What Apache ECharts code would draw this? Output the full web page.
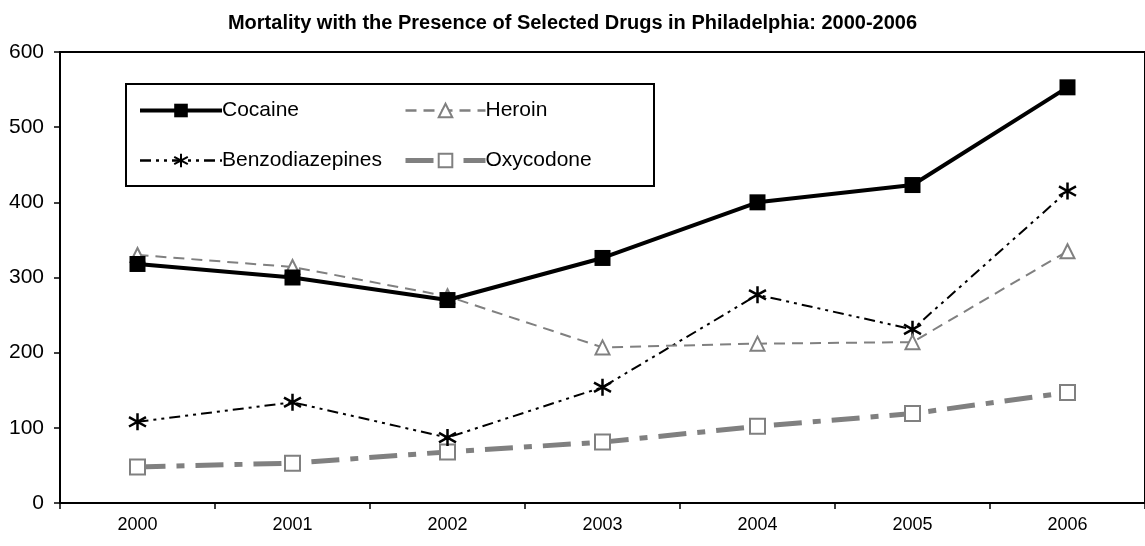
<!DOCTYPE html>
<html><head><meta charset="utf-8">
<script src="https://cdn.jsdelivr.net/npm/echarts@6/dist/echarts.min.js"></script>
<style>html,body{margin:0;padding:0;background:#fff}#c{width:1145px;height:546px}</style>
</head><body><div id="c"></div>
<script>
const years = ['2000','2001','2002','2003','2004','2005','2006'];
const cocaine = [318, 300, 270, 326, 400, 423, 553];
const heroin = [330, 314, 275, 207, 212, 214, 335];
const benzodiazepines = [108, 134, 87, 154, 277, 231, 415];
const oxycodone = [48, 53, 68, 81, 102, 119, 147];
const yTicks = [0, 100, 200, 300, 400, 500, 600];

const FONT = '"Liberation Sans", Arial, sans-serif';
const asterisk = 'path://M10 0 L10 20 M1.5 4.5 L18.5 15.5 M1.5 15.5 L18.5 4.5';

const chart = echarts.init(document.getElementById('c'));
chart.setOption({
  animation: false,
  backgroundColor: '#fff',
  textStyle: { fontFamily: FONT },
  title: {
    text: 'Mortality with the Presence of Selected Drugs in Philadelphia: 2000-2006',
    left: 'center', top: 8,
    textStyle: { fontFamily: FONT, fontSize: 20, fontWeight: 'bold', color: '#000' }
  },
  grid: { left: 60, right: -2, top: 52, bottom: 43, show: true, borderColor: '#000', borderWidth: 2 },
  xAxis: {
    type: 'category', data: years, boundaryGap: true,
    axisLine: { lineStyle: { color: '#000', width: 2 } },
    axisTick: { show: true, length: 6, lineStyle: { color: '#000', width: 1.5 } },
    axisLabel: { color: '#000', fontSize: 18, margin: 13, fontFamily: FONT }
  },
  yAxis: {
    type: 'value', min: yTicks[0], max: yTicks[yTicks.length - 1], interval: 100,
    axisLine: { show: true, lineStyle: { color: '#000', width: 2 } },
    axisTick: { show: true, length: 6, lineStyle: { color: '#000', width: 1.5 } },
    splitLine: { show: false },
    axisLabel: { color: '#000', fontSize: 21, margin: 16, fontFamily: FONT }
  },
  legend: [
    {
      data: [
        { name: 'Cocaine', lineStyle: { width: 4 } },
        { name: 'Benzodiazepines', lineStyle: { width: 2.5 } }
      ],
      orient: 'vertical', left: 133, top: 95,
      itemWidth: 82, itemHeight: 17, itemGap: 29,
      textStyle: { fontSize: 21, color: '#000', fontFamily: FONT, padding: [0,0,0,-5] }
    },
    {
      data: [
        { name: 'Heroin', lineStyle: { width: 2.5 } },
        { name: 'Oxycodone', lineStyle: { width: 5 } }
      ],
      orient: 'vertical', left: 398, top: 95,
      itemWidth: 80, itemHeight: 17, itemGap: 29,
      textStyle: { fontSize: 21, color: '#000', fontFamily: FONT, padding: [0,0,0,-5] }
    }
  ],
  graphic: [{
    type: 'rect', left: 125, top: 83, z: 0,
    shape: { width: 528, height: 102 },
    style: { fill: '#fff', stroke: '#000', lineWidth: 2 }
  }],
  series: [
    {
      name: 'Cocaine', type: 'line', data: cocaine, z: 5,
      symbol: 'rect', symbolSize: 16,
      lineStyle: { color: '#000', width: 4 },
      itemStyle: { color: '#000', borderColor: '#000', borderWidth: 0 }
    },
    {
      name: 'Heroin', type: 'line', data: heroin, z: 4,
      symbol: 'triangle', symbolSize: 14,
      lineStyle: { color: '#808080', width: 2, type: [11, 7] },
      itemStyle: { color: '#fff', borderColor: '#808080', borderWidth: 2 }
    },
    {
      name: 'Benzodiazepines', type: 'line', data: benzodiazepines, z: 3,
      symbol: asterisk, symbolSize: 17,
      lineStyle: { color: '#000', width: 2, type: [11, 5, 3, 5, 3, 5] },
      itemStyle: { color: '#000', borderColor: '#000', borderWidth: 2.5 }
    },
    {
      name: 'Oxycodone', type: 'line', data: oxycodone, z: 2,
      symbol: 'rect', symbolSize: 15,
      lineStyle: { color: '#808080', width: 5, type: [28, 11, 8, 11] },
      itemStyle: { color: '#fff', borderColor: '#808080', borderWidth: 2 }
    }
  ]
});
</script></body></html>
